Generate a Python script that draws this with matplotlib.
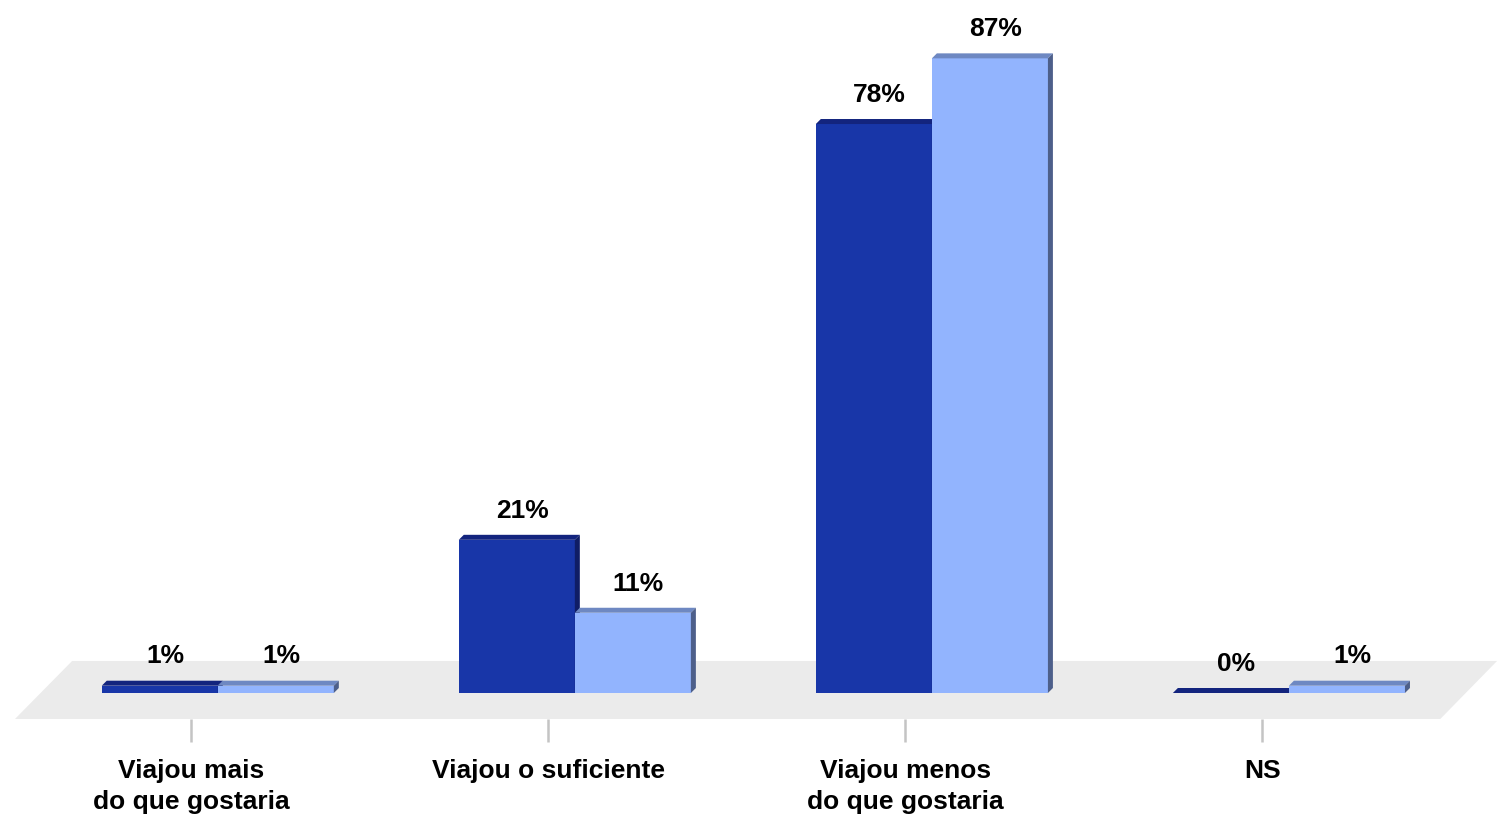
import matplotlib.pyplot as plt
from matplotlib.patches import Polygon

# Data
categories = ['Viajou mais\ndo que gostaria', 'Viajou o suficiente',
              'Viajou menos\ndo que gostaria', 'NS']
serie_a = [1, 21, 78, 0]
serie_b = [1, 11, 87, 1]
labels_a = ['1%', '21%', '78%', '0%']
labels_b = ['1%', '11%', '87%', '1%']

plt.rcParams['font.family'] = ['Liberation Sans', 'DejaVu Sans']

fig = plt.figure(figsize=(15.06, 8.27), dpi=100)
ax = fig.add_axes([0, 0, 1, 1])
ax.set_xlim(-0.535, 3.683)
ax.set_ylim(-18.37, 95.0)
ax.axis('off')

# floor
floor = Polygon([(-0.493, -3.56), (3.499, -3.56), (3.658, 4.39), (-0.333, 4.39)],
                closed=True, facecolor='#EBEBEB', edgecolor='none', zorder=0)
ax.add_patch(floor)

w = 0.325          # bar width
shift = 0.075      # bars sit a bit right of the tick
ddx = 0.014        # depth x
ddy = 0.685        # depth y

styles = [
    dict(front='#1836A8', top='#13247E', side='#0F1D66'),
    dict(front='#92B4FE', top='#6E88C2', side='#4D5F8A'),
]

x = range(len(categories))
for k, (vals, labs) in enumerate([(serie_a, labels_a), (serie_b, labels_b)]):
    st = styles[k]
    for i, v in zip(x, vals):
        x0 = i + shift - w + k * w
        x1 = x0 + w
        ax.bar(x0, v, width=w, align='edge', color=st['front'], zorder=2 + k)
        ax.add_patch(Polygon([(x0, v), (x1, v), (x1 + ddx, v + ddy), (x0 + ddx, v + ddy)],
                             closed=True, facecolor=st['top'], edgecolor='none', zorder=2 + k))
        ax.add_patch(Polygon([(x1, 0), (x1 + ddx, ddy), (x1 + ddx, v + ddy), (x1, v)],
                             closed=True, facecolor=st['side'], edgecolor='none', zorder=2 + k))
    for i, v, lab in zip(x, vals, labs):
        xc = i + shift - w / 2 + k * w
        ax.annotate(lab, (xc, v), xytext=(4, 16), textcoords='offset points',
                    ha='center', va='baseline', fontsize=19, fontweight='bold', zorder=5)

# ticks and category labels
ax.vlines(list(x), -3.56, -6.72, color='#C4C4C4', linewidth=1.8, zorder=1)
for i, cat in zip(x, categories):
    ax.text(i, -9.0, cat, ha='center', va='top', fontsize=19, fontweight='bold',
            linespacing=1.4)

fig.savefig('out.png', dpi=100)
